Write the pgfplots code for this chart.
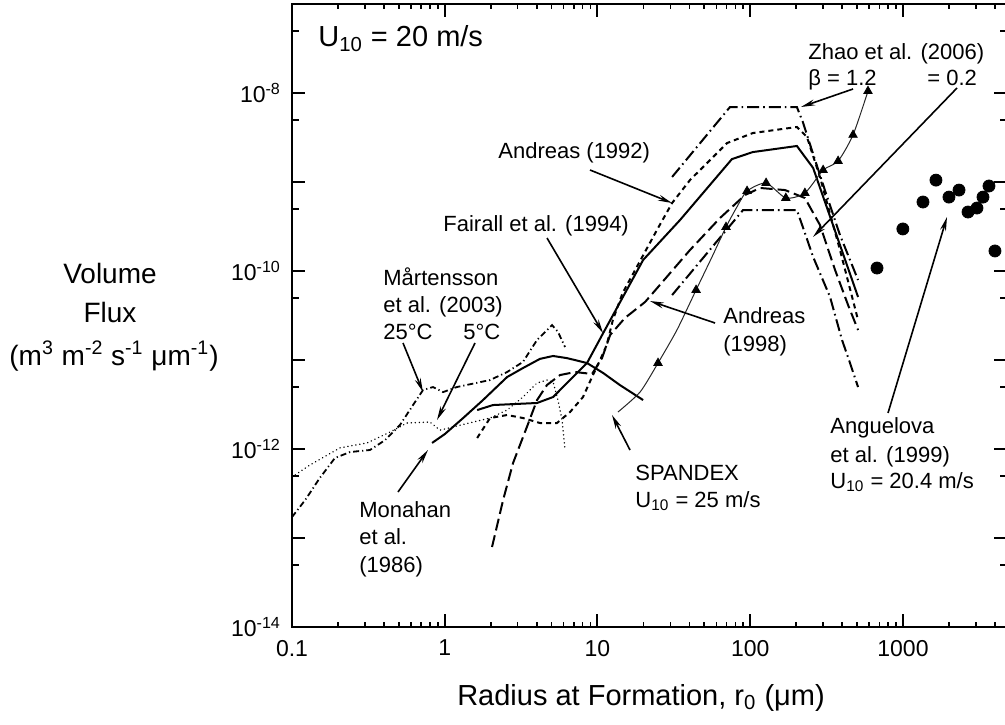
\documentclass[border=0pt]{standalone}
\usepackage{fontspec}
\setmainfont{Liberation Sans}
\usepackage{pgfplots}
\pgfplotsset{compat=1.18}
\usetikzlibrary{arrows.meta}

\tikzset{
  ann/.style={font=\fontsize{11}{13}\selectfont, inner sep=0pt, anchor=base west},
  lab/.style={font=\fontsize{14}{16}\selectfont, inner sep=0pt, anchor=base},
  arr/.style={line width=0.8pt, -{Stealth[length=7pt,width=3pt]}},
}

\begin{document}
\begin{tikzpicture}
\begin{axis}[
  name=ax,
  scale only axis,
  width=357.5pt, height=311.5pt,
  xmode=log, ymode=log,
  xmin=0.1, xmax=4797, ymin=1e-14, ymax=1e-7,
  axis line style={line width=1.2pt},
  xtick={0.1,1,10,100,1000},
  xticklabels={0.1,1,10,100,1000},
  minor xtick={0.2,0.3,0.4,0.5,0.6,0.7,0.8,0.9,2,3,4,5,6,7,8,9,20,30,40,50,60,70,80,90,200,300,400,500,600,700,800,900,2000,3000,4000},
  ytick={1e-14,1e-13,1e-12,1e-11,1e-10,1e-9,1e-8,1e-7},
  yticklabels={10\textsuperscript{-14},,10\textsuperscript{-12},,10\textsuperscript{-10},,10\textsuperscript{-8},},
  yminorticks=false,
  extra y ticks={5e-14,5e-13,5e-12,5e-11,5e-10,5e-9,5e-8},
  extra y tick labels={},
  extra y tick style={major tick length=3.5pt, tick style={black, line width=1pt}},
  major tick length=6.5pt,
  minor tick length=2.5pt,
  tick style={black, line width=1pt},
  minor tick style={line width=0.8pt},
  tick label style={font=\fontsize{11.5}{12}\selectfont},
  yticklabel style={xshift=-2pt},
  xticklabel style={yshift=-3pt},
  clip=false,
]

% Martensson et al. (2003), 25 C
\addplot[black, line width=0.9pt, dash pattern=on 3pt off 1.5pt on 0.6pt off 1.5pt] coordinates {
(0.1,1.72e-13) (0.122,2.67e-13) (0.152,4.72e-13) (0.191,7.93e-13) (0.240,9.25e-13)
(0.324,9.75e-13) (0.407,1.26e-12) (0.509,1.86e-12) (0.620,3.12e-12) (0.721,4.60e-12)
(0.838,4.97e-12) (0.975,4.36e-12) (1.20,4.97e-12) (1.98,5.96e-12) (2.56,7.33e-12)
(3.25,9.51e-12) (4.02,1.68e-11) (5.04,2.47e-11) (5.51,2.07e-11) (6.13,1.40e-11)
};

% Martensson et al. (2003), 5 C
\addplot[black, line width=0.8pt, line cap=round, dash pattern=on 0.01pt off 2pt] coordinates {
(0.1,4.84e-13) (0.131,6.61e-13) (0.206,1.03e-12) (0.310,1.17e-12) (0.438,1.55e-12)
(0.566,1.96e-12) (0.800,2.01e-12) (0.931,1.63e-12) (1.13,1.77e-12) (1.98,2.23e-12)
(2.56,2.74e-12) (3.25,3.84e-12) (4.02,5.52e-12) (4.67,5.96e-12) (5.12,5.66e-12)
(5.51,3.55e-12) (5.86,2.12e-12) (6.13,9.75e-13)
};

% Monahan et al. (1986)
\addplot[black, line width=1pt] coordinates {
(0.826,1.17e-12) (1.00,1.47e-12) (1.32,2.23e-12) (1.78,3.55e-12) (2.56,6.44e-12)
(3.25,8.12e-12) (4.20,1.03e-11) (5.12,1.11e-11) (6.32,1.05e-11) (8.54,9.25e-12)
(10.9,7.14e-12) (14.0,5.24e-12) (19.9,3.55e-12)
};

% Fairall et al. (1994)
\addplot[black, line width=1pt] coordinates {
(1.63,2.74e-12) (2.07,3.12e-12) (4.02,3.29e-12) (5.12,3.84e-12) (6.61,5.96e-12)
(8.54,9.25e-12) (10.9,2.01e-11) (19.9,1.33e-10) (34.7,3.74e-10) (75.9,1.81e-9)
(104,2.17e-9) (202,2.54e-9) (258,1.44e-9) (508,5.11e-11)
};

% Andreas (1992)
\addplot[black, line width=1pt, dash pattern=on 2.5pt off 2pt] coordinates {
(1.63,1.33e-12) (1.98,2.23e-12) (2.56,2.41e-12) (3.25,2.23e-12) (4.20,1.96e-12)
(5.43,1.96e-12) (6.61,2.60e-12) (8.04,3.84e-12) (9.21,6.44e-12) (10.4,1.00e-11)
(11.5,1.48e-11) (12.6,2.81e-11) (14.6,5.66e-11) (24.5,2.89e-10) (30.8,5.81e-10)
(40.3,1.05e-9) (70.5,2.74e-9) (104,3.55e-9) (202,4.15e-9) (235,3.21e-9)
(286,1.14e-9) (387,1.72e-10) (508,2.81e-11)
};

% Andreas (1998)
\addplot[black, line width=1pt, dash pattern=on 6pt off 2.5pt] coordinates {
(2.04,7.93e-14) (2.41,2.67e-13) (2.80,6.96e-13) (3.45,1.77e-12) (4.02,3.55e-12)
(4.67,5.24e-12) (5.69,6.78e-12) (7.13,7.33e-12) (9.21,6.97e-12) (10.7,1.05e-11)
(12.1,1.91e-11) (15.1,2.96e-11) (20.5,4.49e-11) (25.6,6.97e-11) (40.3,1.72e-10)
(63.4,3.94e-10) (92.4,7.14e-10) (116,8.57e-10) (169,8.12e-10) (228,6.61e-10)
(286,3.29e-10) (359,1.03e-10) (437,4.15e-11) (508,2.17e-11)
};

% Zhao et al. (2006), beta = 1.2
\addplot[black, line width=1pt, dash pattern=on 6pt off 2pt on 0.8pt off 2pt] coordinates {
(30.8,1.14e-9) (73.7,6.96e-9) (202,6.96e-9) (221,4.72e-9) (253,2.29e-9)
(308,8.12e-10) (387,2.53e-10) (508,7.93e-11)
};

% Zhao et al. (2006), beta = 0.2
\addplot[black, line width=1pt, dash pattern=on 6pt off 2pt on 0.8pt off 2pt] coordinates {
(30.8,5.37e-11) (89.7,4.84e-10) (202,4.84e-10) (221,3.12e-10) (258,1.44e-10)
(333,5.11e-11) (399,1.68e-11) (450,9.25e-12) (508,4.97e-12)
};

% SPANDEX, U10 = 25 m/s
\addplot[black!85, line width=0.5pt, smooth, tension=0.4] coordinates {
(13.6,2.60e-12) (19.0,4.37e-12) (24.9,9.25e-12) (33.1,2.17e-11) (44.2,6.12e-11)
(56.2,1.44e-10) (69.4,3.12e-10) (81.8,5.24e-10) (95.3,7.92e-10) (127,9.75e-10)
(171,6.61e-10) (228,7.52e-10) (300,1.36e-9) (376,1.72e-9) (471,3.38e-9) (590,1.05e-8)
};
\addplot[only marks, mark=triangle*, mark size=2.4pt, black] coordinates {
(24.9,9.25e-12) (44.2,6.12e-11) (69.4,3.12e-10) (95.3,7.92e-10) (127,9.75e-10)
(171,6.61e-10) (228,7.52e-10) (300,1.36e-9) (376,1.72e-9) (471,3.38e-9) (590,1.05e-8)
};

% Anguelova et al. (1999)
\addplot[only marks, mark=*, mark size=3pt, black] coordinates {
(676,1.08e-10) (998,2.97e-10) (1352,5.96e-10) (1644,1.05e-9) (2000,6.77e-10)
(2327,8.12e-10) (2665,4.60e-10) (3050,5.10e-10) (3340,6.77e-10) (3656,9.02e-10)
(4000,1.68e-10)
};
\end{axis}

\begin{scope}[shift={(ax.south west)}, x=0.5pt, y=-0.5pt]
\begin{scope}[shift={(-292,-627)}]
  \node[ann, font=\fontsize{14.5}{16}\selectfont] at (318,47) {U\textsubscript{10} = 20 m/s};

  \node[ann] at (498,159) {Andreas (1992)};
  \node[ann] at (443,232) {Fairall et al. (1994)};
  \node[ann] at (383,285) {Mårtensson};
  \node[ann] at (383,312) {et al. (2003)};
  \node[ann] at (383,339) {25°C};
  \node[ann] at (463,339) {5°C};
  \node[ann] at (359,517) {Monahan};
  \node[ann] at (359,544) {et al.};
  \node[ann] at (359,572) {(1986)};
  \node[ann] at (723,323) {Andreas};
  \node[ann] at (723,351) {(1998)};
  \node[ann] at (635,480) {SPANDEX};
  \node[ann] at (635,507) {U\textsubscript{10} = 25 m/s};
  \node[ann] at (830,433) {Anguelova};
  \node[ann] at (830,462) {et al. (1999)};
  \node[ann] at (830,488) {U\textsubscript{10} = 20.4 m/s};
  \node[ann] at (808,60) {Zhao et al. (2006)};
  \node[ann] at (808,86) {β = 1.2};
  \node[ann] at (927,86) {= 0.2};

  \draw[arr] (590,170) -- (672,203);
  \draw[arr] (547,238) -- (603,333);
  \draw[arr] (403,343) -- (423,392);
  \draw[arr] (475,343) -- (437,420);
  \draw[arr] (398,492) -- (428,450);
  \draw[arr] (715,323) -- (650,301);
  \draw[arr] (630,450) -- (612,415);
  \draw[arr] (853,89) -- (801,107);
  \draw[arr] (957,88) -- (813,237);
  \draw[arr] (888,413) -- (947,217);

  \node[lab] at (110,283) {Volume};
  \node[lab] at (110,322) {Flux};
  \node[lab] at (114,365) {(m\textsuperscript{3} m\textsuperscript{-2} s\textsuperscript{-1} μm\textsuperscript{-1})};
  \node[lab, font=\fontsize{14.5}{16}\selectfont] at (641,705) {Radius at Formation, r\textsubscript{0} (μm)};

  \pgfresetboundingbox
  \path[use as bounding box] (0,0) rectangle (1005,724);
\end{scope}
\end{scope}
\end{tikzpicture}
\end{document}
